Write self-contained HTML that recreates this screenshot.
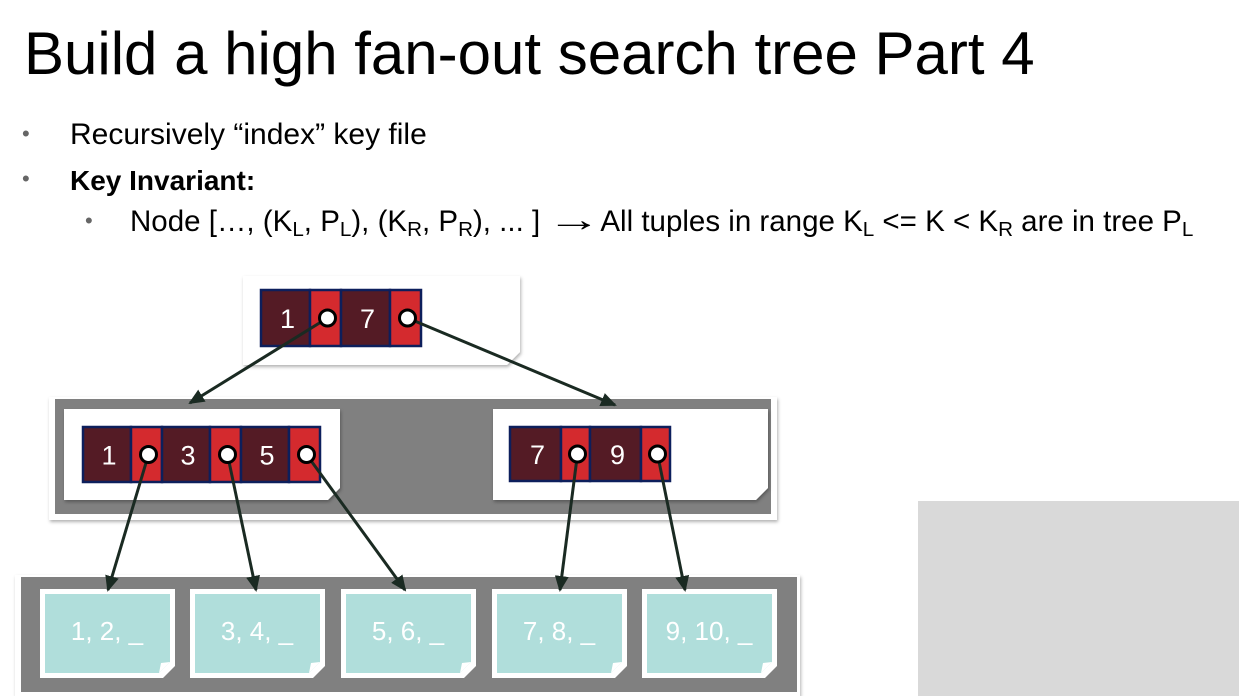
<!DOCTYPE html>
<html><head><meta charset="utf-8"><style>
body{margin:0;width:1239px;height:696px;background:#fff;overflow:hidden;font-family:"Liberation Sans",sans-serif;position:relative}
.t{position:absolute;white-space:nowrap;color:#000}
sub{font-size:0.7em;vertical-align:-0.25em;line-height:0}
.b{color:#666;font-size:22px;position:relative;top:-3px}
</style></head><body>
<div class="t" style="left:24px;top:19px;font-size:60px">Build a high fan-out search tree Part 4</div>
<div class="t" style="left:22px;top:118px;font-size:30px"><span class="b">•</span><span style="position:absolute;left:48px">Recursively “index” key file</span></div>
<div class="t" style="left:22px;top:163px;font-size:30px"><span class="b">•</span><span style="position:absolute;left:48px;font-weight:bold;font-size:28px;top:2px">Key Invariant:</span></div>
<div class="t" style="left:85px;top:205px;font-size:30px"><span class="b">•</span><span style="position:absolute;left:45px;font-size:29.5px;line-height:34px">Node […, (K<sub>L</sub>, P<sub>L</sub>), (K<sub>R</sub>, P<sub>R</sub>), ... ] <b style="font-size:34px;line-height:0;display:inline-block;transform:scaleX(1.6);margin:0 9px">→</b>All tuples in range K<sub>L</sub> &lt;= K &lt; K<sub>R</sub> are in tree P<sub>L</sub></span></div>
<svg width="1239" height="696" style="position:absolute;left:0;top:0" font-family="Liberation Sans, sans-serif">
<defs>
<marker id="ah" markerWidth="16" markerHeight="14" refX="14" refY="7" orient="auto" markerUnits="userSpaceOnUse"><path d="M0,0 L16,7 L0,14 z" fill="#1a2a22"/></marker>
<filter id="sh"><feDropShadow dx="1" dy="2" stdDeviation="1.5" flood-opacity="0.3"/></filter>
</defs>
<rect x="918" y="501" width="321" height="195" fill="#d9d9d9"/>
<path d="M243,276 H520 V352 L507,365 H243 Z" fill="#fff" filter="url(#sh)"/>
<rect x="49" y="397" width="728" height="123" fill="#fff" filter="url(#sh)"/>
<rect x="55" y="399" width="716" height="115" fill="#808080"/>
<path d="M64,409 H340 V488 L328,500 H64 Z" fill="#fff" filter="url(#sh)"/>
<path d="M493,409 H768 V488 L756,500 H493 Z" fill="#fff" filter="url(#sh)"/>
<rect x="15" y="575" width="785" height="121" fill="#fff" filter="url(#sh)"/>
<rect x="21" y="577" width="776" height="115" fill="#808080"/>
<g id="leaves"></g>
<g id="nodes"></g>
<g id="arrows"></g>
</svg>
<script>
const ns="http://www.w3.org/2000/svg";
function mk(tag,attrs,parent){const e=document.createElementNS(ns,tag);for(const k in attrs)e.setAttribute(k,attrs[k]);parent.appendChild(e);return e;}
const leafLabels=["1, 2, _","3, 4, _","5, 6, _","7, 8, _","9, 10, _"];
const leafX=[40,190,341,492,642];
const lg=document.getElementById('leaves');
leafLabels.forEach((l,i)=>{
 const g=mk('g',{},lg);
 
 
 const x=leafX[i];
 mk('path',{d:`M${x},589 H${x+135} V666 L${x+123},678 H${x} Z`,fill:'#fff'},g);
 mk('path',{d:`M${x+5},594 H${x+130} V662 L${x+119},673 H${x+5} Z`,fill:'#b0dedb'},g);
 mk('path',{d:`M${x+119},673 L${x+121},663 L${x+130},662 Z`,fill:'#fff'},g);
 const t=mk('text',{x:x+67,y:640,'text-anchor':'middle','font-size':'26',fill:'#fff'},g);t.textContent=l;
});
const nodes=[
 {x:261,y:290,h:56,keys:["1","7"],kw:49,pw:31},
 {x:83,y:427,h:55,keys:["1","3","5"],kw:48,pw:31},
 {x:510,y:427,h:54,keys:["7","9"],kw:51,pw:29}
];
const ng=document.getElementById('nodes');
const ptrs=[];
nodes.forEach(n=>{
 const g=mk('g',{},ng);
 
 
 let x=n.x;const ps=[];
 n.keys.forEach(k=>{
  mk('rect',{x:x,y:n.y,width:n.kw,height:n.h,fill:'#541b25',stroke:'#0d1f5c','stroke-width':2.5},g);
  const t=mk('text',{x:x+n.kw/2+2,y:n.y+n.h/2+10,'text-anchor':'middle','font-size':'27',fill:'#fff'},g);t.textContent=k;
  x+=n.kw;
  mk('rect',{x:x,y:n.y,width:n.pw,height:n.h,fill:'#d42a2e',stroke:'#0d1f5c','stroke-width':2.5},g);
  ps.push([x+n.pw/2+2,n.y+n.h/2]);
  x+=n.pw;
 });
 ptrs.push(ps);
});
const targets=[[[190,403],[615,405]],[[108,590],[256,590],[405,590]],[[560,590],[685,590]]];
const ag=document.getElementById('arrows');
ptrs.forEach((ps,i)=>ps.forEach((p,j)=>{
 const t=targets[i][j];
 const l=mk('line',{x1:p[0],y1:p[1],x2:t[0],y2:t[1],stroke:'#1a2a22','stroke-width':3,'marker-end':'url(#ah)'},ag);
 
 
}));
ptrs.forEach(ps=>ps.forEach(p=>{
 const c=mk('circle',{cx:p[0],cy:p[1],r:8,fill:'#fff',stroke:'#000','stroke-width':3},ag);
 
 
}));
</script>
</body></html>
